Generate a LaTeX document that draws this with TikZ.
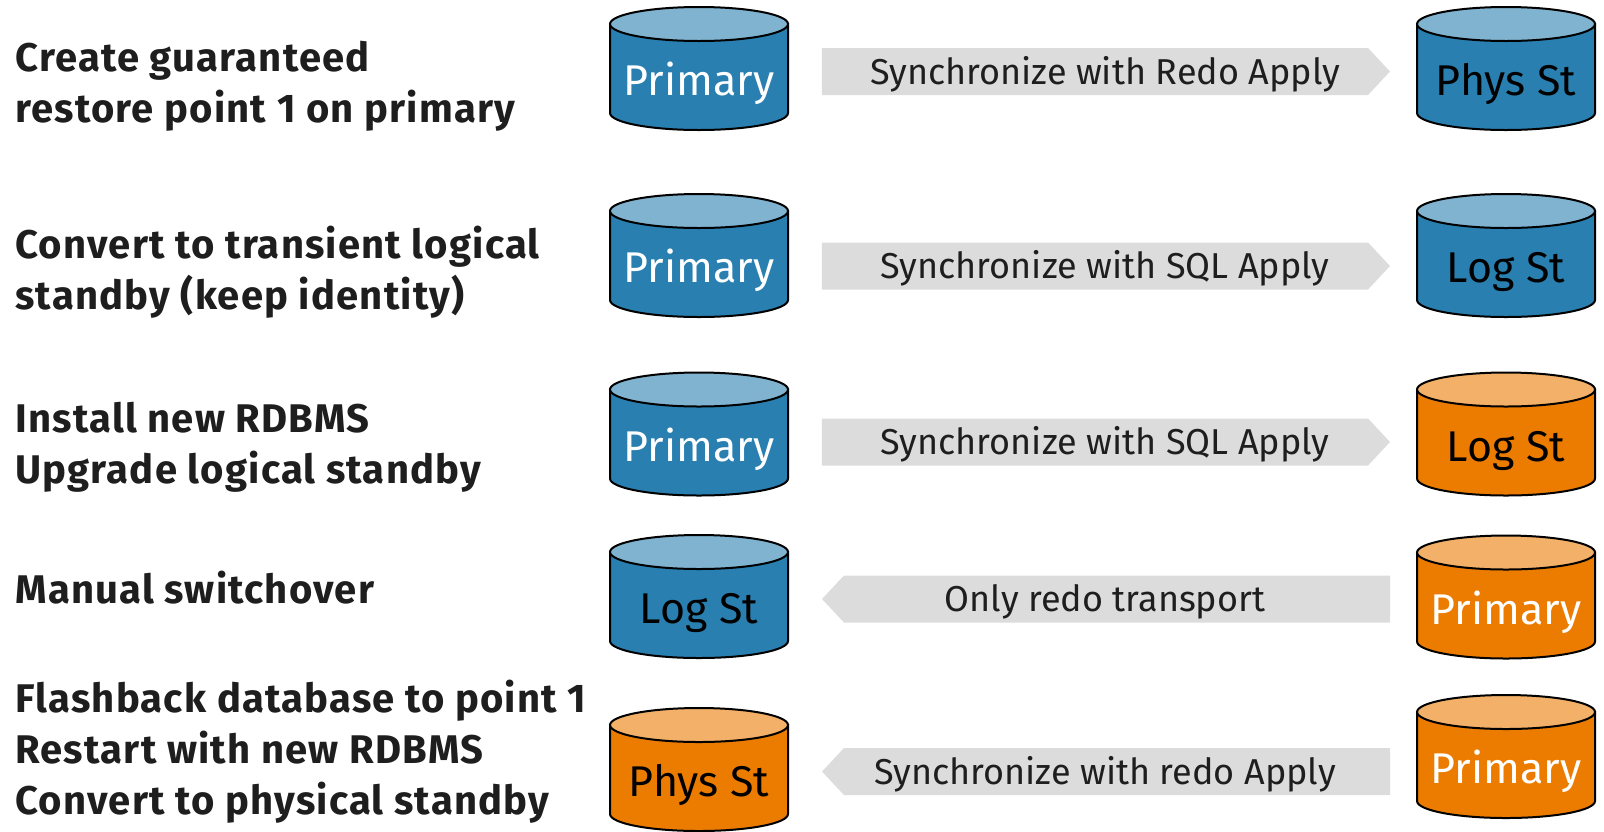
\documentclass[tikz,border=0pt]{standalone}
\usepackage{fontspec}
\setmainfont{Fira Sans}
\newfontfamily\taskfont[LetterSpace=3]{Fira Sans}
\usetikzlibrary{shapes.symbols,calc}

\definecolor{dbblue}{RGB}{41,128,176}
\definecolor{dbbluetop}{RGB}{127,179,207}
\definecolor{dborange}{RGB}{236,124,0}
\definecolor{dborangetop}{RGB}{242,176,104}
\definecolor{bandgray}{RGB}{220,220,220}
\definecolor{darktext}{RGB}{30,30,30}

% database drum: name, x, y, body, top, label colour, label
\newcommand{\dbstore}[7]{%
  \begin{scope}[shift={(#2,#3)}]
    \filldraw[dbline, fill=#4] (-89,44.5) -- (-89,-44.5)
      arc[start angle=180, end angle=360, x radius=89, y radius=17] -- (89,44.5) -- cycle;
    \filldraw[dbline, fill=#5] (0,44.5) ellipse[x radius=89, y radius=17];
  \end{scope}
  \node[dblabel, text=#6] (#1) at ($(#2,#3)+(0,-27)$) {#7};
}

\begin{document}
\begin{tikzpicture}[x=0.5pt, y=0.5pt,
    dbline/.style   = {draw=black, line width=1pt},
    dblabel/.style  = {anchor=base, inner sep=0pt, font=\fontsize{21.5}{24}\selectfont},
    task/.style     = {anchor=base west, align=left, inner sep=0pt, text=darktext,
                       font=\taskfont\fontsize{20}{25.5}\selectfont\bfseries},
    sync/.style     = {signal, fill=bandgray, draw=none, inner sep=0pt,
                       minimum width=284pt, minimum height=23.5pt, signal pointer angle=94},
    synctext/.style = {inner sep=0pt, text=darktext, text height=12.5pt, text depth=0pt,
                       font=\fontsize{18}{22}\selectfont},
    ]
    \useasboundingbox (0,0) rectangle (1604,-831);

    % steps
    \node[task] (t1) at (15,-122) {Create guaranteed\\restore point 1 on primary};
    \node[task] (t2) at (15,-309) {Convert to transient logical\\standby (keep identity)};
    \node[task] (t3) at (15,-483) {Install new RDBMS\\Upgrade logical standby};
    \node[task] (t4) at (15,-603) {Manual switchover};
    \node[task] (t5) at (15,-814) {Flashback database to point 1\\Restart with new RDBMS\\Convert to physical standby};

    % databases
    \dbstore{p1}{699}{-68.5}{dbblue}{dbbluetop}{white}{Primary}
    \dbstore{q1}{1506}{-68.5}{dbblue}{dbbluetop}{black}{Phys St}
    \dbstore{p2}{699}{-255.5}{dbblue}{dbbluetop}{white}{Primary}
    \dbstore{q2}{1506}{-255.5}{dbblue}{dbbluetop}{black}{Log St}
    \dbstore{p3}{699}{-434}{dbblue}{dbbluetop}{white}{Primary}
    \dbstore{q3}{1506}{-434}{dborange}{dborangetop}{black}{Log St}
    \dbstore{p4}{699}{-596.5}{dbblue}{dbbluetop}{black}{Log St}
    \dbstore{q4}{1506}{-597}{dborange}{dborangetop}{white}{Primary}
    \dbstore{p5}{699}{-769.5}{dborange}{dborangetop}{black}{Phys St}
    \dbstore{q5}{1506}{-756.5}{dborange}{dborangetop}{white}{Primary}

    % transport
    \node[sync, signal to=east, label={[name=s1t, synctext, xshift=5pt]center:Synchronize with Redo Apply}]
        (s1) at (1095,-71.5) {};
    \node[sync, signal to=east, label={[name=s2t, synctext, xshift=5pt]center:Synchronize with SQL Apply}]
        (s2) at (1095,-266) {};
    \node[sync, signal to=east, label={[name=s3t, synctext, xshift=5pt]center:Synchronize with SQL Apply}]
        (s3) at (1095,-442) {};
    \node[sync, signal to=west, label={[name=s4t, synctext, xshift=-6pt]center:Only redo transport}]
        (s4) at (1117,-599) {};
    \node[sync, signal to=west, label={[name=s5t, synctext, xshift=-6pt]center:Synchronize with redo Apply}]
        (s5) at (1117,-771.5) {};
\end{tikzpicture}
\end{document}
